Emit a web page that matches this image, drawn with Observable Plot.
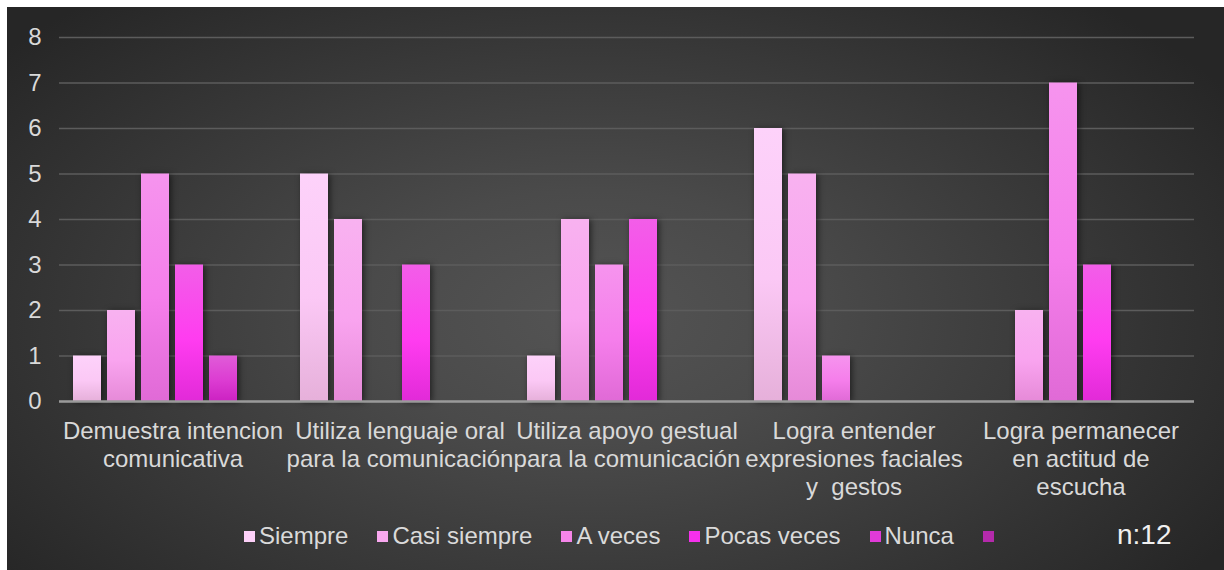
<!DOCTYPE html>
<html><head><meta charset="utf-8">
<script src="https://cdn.jsdelivr.net/npm/d3@7"></script>
<script src="https://cdn.jsdelivr.net/npm/@observablehq/plot@0.6"></script>
<style>
html,body{margin:0;padding:0;background:#fff;}
body{width:1224px;height:570px;position:relative;overflow:hidden;font-family:"Liberation Sans",Arial,sans-serif;}
#panel{position:absolute;left:7px;top:7px;width:1217px;height:563px;overflow:hidden;
  background:radial-gradient(ellipse 62% 75% at 48% 55%, #545454 0%, #4a4a4a 30%, #383838 65%, #262626 100%);}
#chart{position:absolute;left:0;top:0;}
#legend{position:absolute;left:237px;top:514px;height:30px;display:flex;align-items:center;color:#dadada;font-size:24px;white-space:nowrap;}
#legend .item{display:flex;align-items:center;margin-right:29px;}
#legend .sw{width:11px;height:11px;margin-right:4px;}
#n{position:absolute;left:1110px;top:512px;color:#f0f0f0;font-size:28px;}
</style></head>
<body><div id="panel"><div id="chart"></div><div id="legend"></div><div id="n">n:12</div></div>
<script>
const categories = ["Demuestra intencion comunicativa","Utiliza lenguaje oral para la comunicación","Utiliza apoyo gestual para la comunicación","Logra entender expresiones faciales y gestos","Logra permanecer en actitud de escucha"];
const categoryLabels = ["Demuestra intencion\ncomunicativa","Utiliza lenguaje oral\npara la comunicación","Utiliza apoyo gestual\npara la comunicación","Logra entender\nexpresiones faciales\ny  gestos","Logra permanecer\nen actitud de\nescucha"];
const series = ["Siempre","Casi siempre","A veces","Pocas veces","Nunca",""];
const siempre     = [1,5,1,6,0];
const casiSiempre = [2,4,4,5,2];
const aVeces      = [5,0,3,1,7];
const pocasVeces  = [3,3,4,0,3];
const nunca       = [1,0,0,0,0];
const sinNombre   = [0,0,0,0,0];
const yTicks = [0,1,2,3,4,5,6,7,8];
const gradStops = [
  ["#fdd2fa","#fbc8f5","#e6b0da"],
  ["#f8b2f0","#f9a4ef","#e68ad8"],
  ["#f694ee","#f57eeb","#e06ad6"],
  ["#f25ee8","#ff3cf0","#e22ad8"],
  ["#e05cd8","#dc3cd2","#cc22c2"],
  ["#b834ae","#b02aa8","#9c2096"]
];
const legendColors = ["#fdd0f8","#f9a8ef","#f585e9","#f530ec","#e03ad8","#b42aab"];

const valuesBySeries = [siempre, casiSiempre, aVeces, pocasVeces, nunca, sinNombre];
const data = [];
categories.forEach((c, i) => series.forEach((s, j) => data.push({category: c, series: s, value: valuesBySeries[j][i]})));
const gradIds = series.map((s, j) => `url(#barGrad${j})`);

const plot = Plot.plot({
  width: 1217, height: 505,
  marginTop: 30, marginBottom: 111, marginLeft: 51, marginRight: 29,
  style: {background: "transparent", color: "#d9d9d9", fontFamily: "Liberation Sans, Arial, sans-serif", fontSize: "24px", overflow: "visible"},
  fx: {domain: categories, padding: 0, label: null},
  x: {domain: series, paddingInner: 0.17, paddingOuter: 0.42, axis: null},
  y: {domain: [0, 8], label: null},
  color: {domain: series, range: gradIds},
  marks: [
    Plot.gridY(yTicks, {stroke: "#5c5c5c", strokeOpacity: 1, strokeWidth: 1.6}),
    Plot.barY(data, {fx: "category", x: "series", y: "value", fill: "series", inset: 0}),
    Plot.ruleY([0], {stroke: "#9a9a9a", strokeWidth: 2.5}),
    Plot.axisY(yTicks, {tickSize: 0, tickPadding: 18, fontSize: 24, label: null}),
    Plot.axisFx({anchor: "bottom", tickSize: 0, tickPadding: 17, fontSize: 24, lineHeight: 1.18, label: null,
      tickFormat: d => categoryLabels[categories.indexOf(d)]})
  ]
});

const defs = d3.select(plot).insert("defs", ":first-child");
gradStops.forEach((st, j) => {
  const g = defs.append("linearGradient").attr("id", `barGrad${j}`).attr("x1", 0).attr("y1", 0).attr("x2", 0).attr("y2", 1);
  g.append("stop").attr("offset", "0%").attr("stop-color", st[0]);
  g.append("stop").attr("offset", "55%").attr("stop-color", st[1]);
  g.append("stop").attr("offset", "100%").attr("stop-color", st[2]);
});
d3.select(plot).selectAll("g[aria-label='bar']").style("filter", "drop-shadow(2px 1px 3px rgba(0,0,0,0.55))");
document.getElementById("chart").appendChild(plot);

const legend = d3.select("#legend");
series.forEach((s, j) => {
  const it = legend.append("div").attr("class", "item");
  it.append("div").attr("class", "sw").style("background", legendColors[j]);
  it.append("span").text(s);
});
</script>
</body></html>
